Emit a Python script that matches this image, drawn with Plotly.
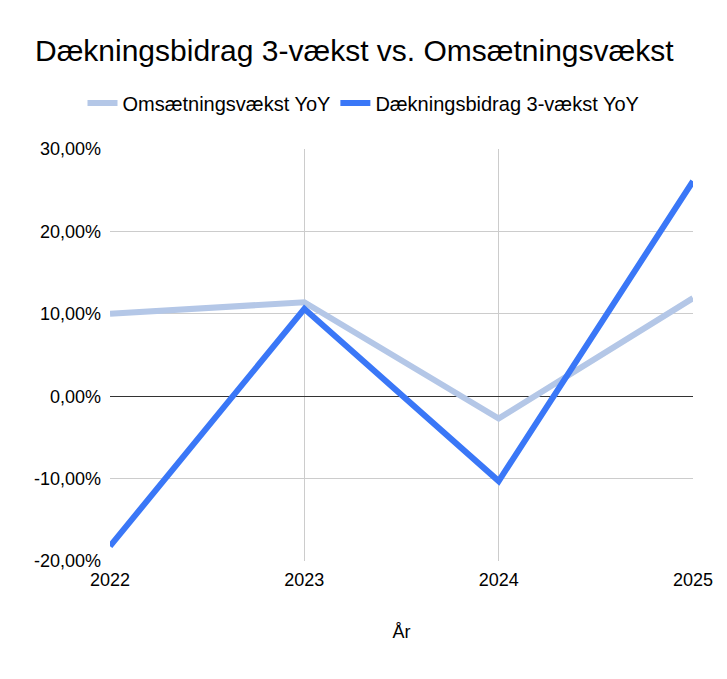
import plotly.graph_objects as go

years = ["2022", "2023", "2024", "2025"]
omsaetning = [0.100, 0.114, -0.027, 0.119]
daekning = [-0.182, 0.106, -0.103, 0.261]
y_ticks = [-0.2, -0.1, 0.0, 0.1, 0.2, 0.3]
y_ticktext = [f"{v*100:.2f}%".replace(".", ",") for v in y_ticks]

xpos = list(range(len(years)))

fig = go.Figure()
fig.add_trace(go.Scatter(x=xpos, y=omsaetning, mode="lines", name="Omsætningsvækst YoY",
                         line=dict(color="#b4c7e7", width=6)))
fig.add_trace(go.Scatter(x=xpos, y=daekning, mode="lines", name="Dækningsbidrag 3-vækst YoY",
                         line=dict(color="#3a77f7", width=6)))

fig.update_layout(
    width=727, height=679,
    paper_bgcolor="white", plot_bgcolor="white",
    separators=",.",
    margin=dict(l=110, r=34, t=149, b=118, autoexpand=False),
    font=dict(family="Liberation Sans, Arial, sans-serif", color="#000000"),
    title=dict(text="Dækningsbidrag 3-vækst vs. Omsætningsvækst", x=35/727, xref="container",
               xanchor="left", y=1-50/679, yanchor="middle", yref="container",
               font=dict(size=30, color="#000000")),
    legend=dict(orientation="h", x=0.5, xref="container", xanchor="center",
                y=1-103/679, yref="container", yanchor="middle",
                font=dict(size=20), itemwidth=30, traceorder="normal"),
    showlegend=True,
)
fig.update_xaxes(
    tickvals=xpos, ticktext=years, range=[0, len(years)-1],
    showgrid=True, gridcolor="#cccccc", gridwidth=1,
    showline=False, zeroline=False, ticks="", ticklabelstandoff=6,
    tickfont=dict(size=18),
    title=dict(text="År", font=dict(size=18), standoff=36),
)
fig.update_yaxes(
    tickvals=y_ticks, ticktext=y_ticktext, range=[-0.2, 0.3],
    showgrid=True, gridcolor="#cccccc", gridwidth=1,
    zeroline=True, zerolinecolor="#333333", zerolinewidth=1,
    showline=False, ticks="", ticklabelstandoff=8,
    tickfont=dict(size=18),
)

fig.write_html("out.html")
